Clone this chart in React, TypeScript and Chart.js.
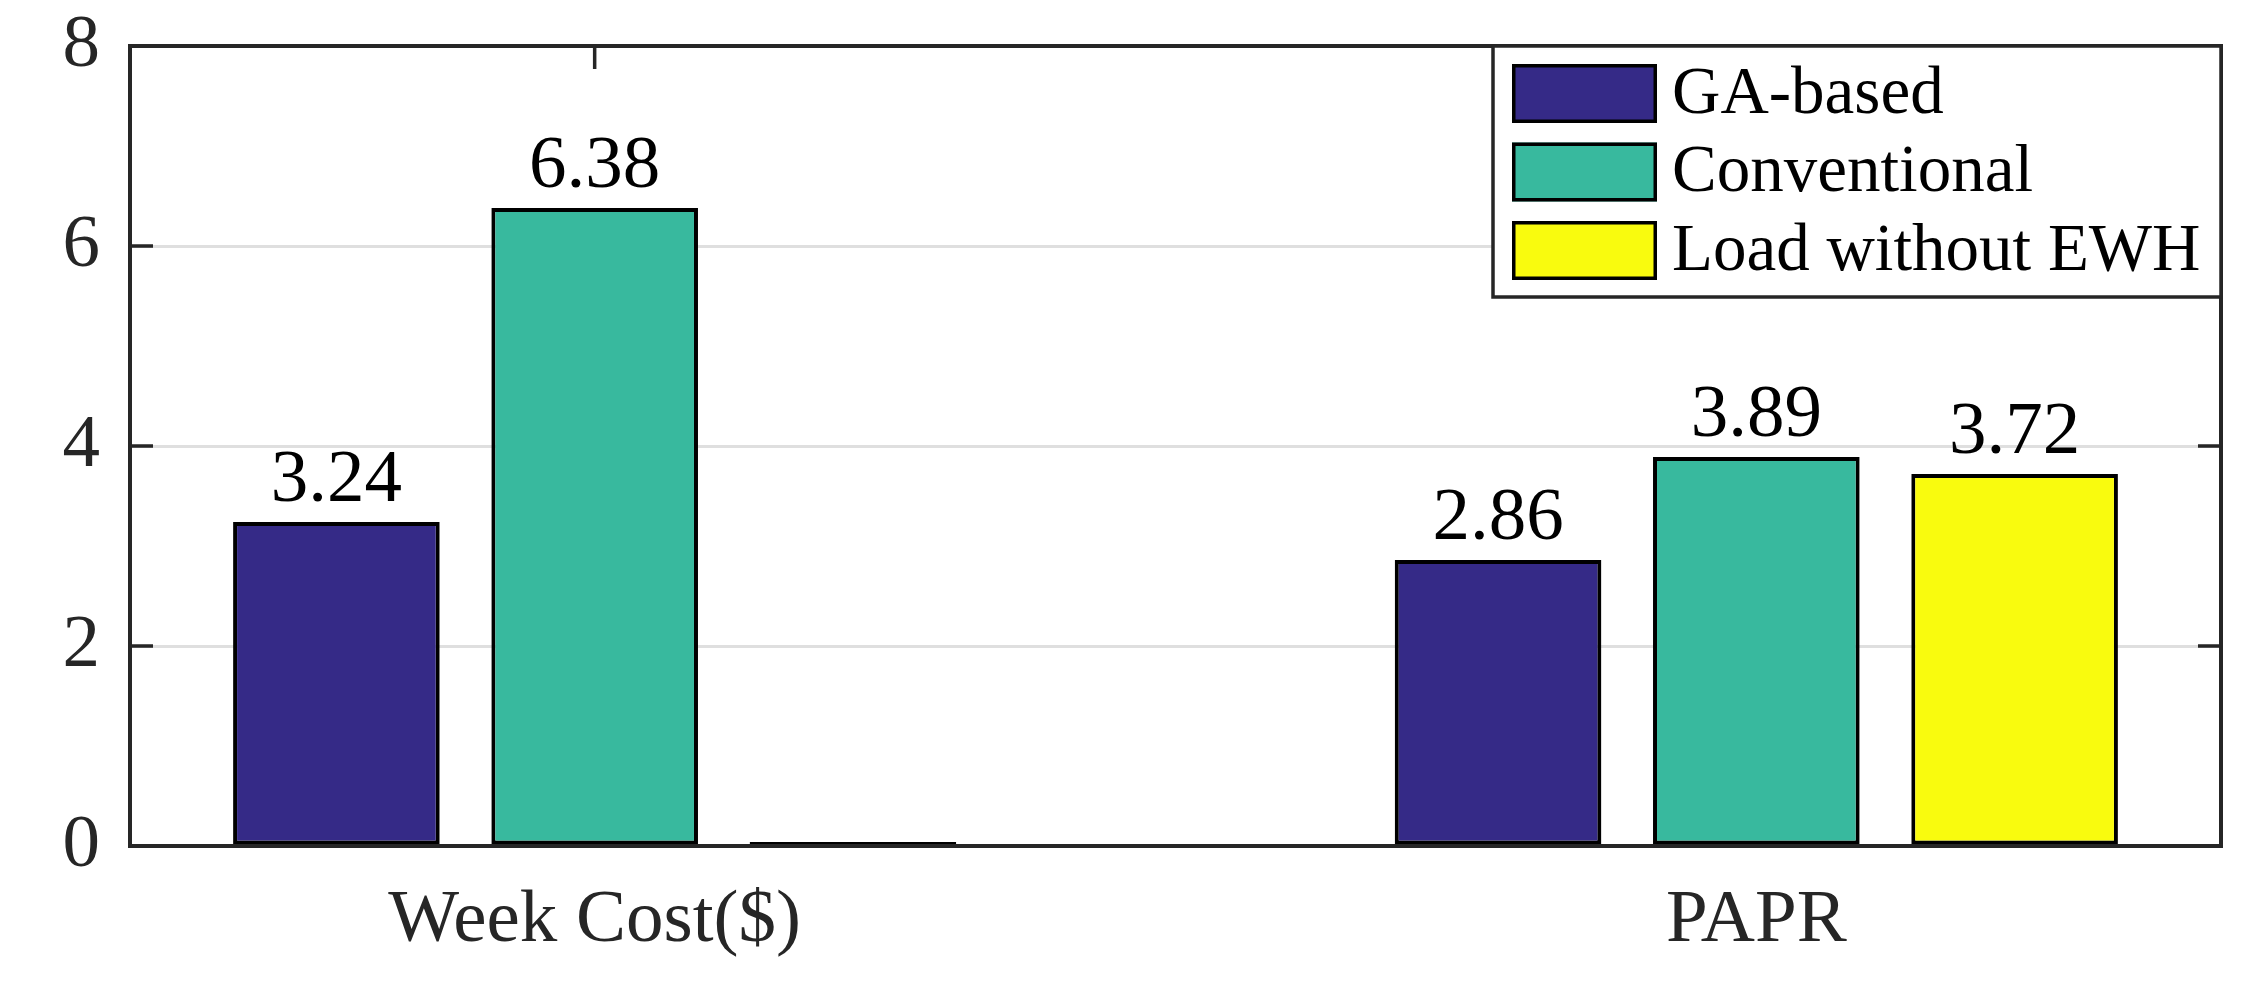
import React, { useEffect, useRef } from "react";
import { Chart, registerables } from "chart.js";

Chart.register(...registerables);

const categories = ["Week Cost($)", "PAPR"];
const seriesNames = ["GA-based", "Conventional", "Load without EWH"];
const gaBased = [3.24, 2.86];
const conventional = [6.38, 3.89];
const loadWithoutEWH = [0, 3.72];
const seriesColors = ["#352a87", "#38b99e", "#f9fb0e"];
const yTicks = [0, 2, 4, 6, 8];

const FONT = '"Liberation Serif", "Times New Roman", serif';
const AXIS_COLOR = "#262626";

const frameAndTicksPlugin = {
  id: "frameAndTicks",
  beforeDatasetsDraw(chart: any) {
    const { ctx, chartArea, scales } = chart;
    const { left, right, top } = chartArea;
    ctx.save();
    ctx.strokeStyle = AXIS_COLOR;
    ctx.lineWidth = 3.5;
    ctx.beginPath();
    yTicks.forEach((v) => {
      if (v === scales.y.min || v === scales.y.max) return;
      const y = scales.y.getPixelForValue(v);
      ctx.moveTo(left, y);
      ctx.lineTo(left + 23, y);
      ctx.moveTo(right, y);
      ctx.lineTo(right - 23, y);
    });
    categories.forEach((_, i) => {
      const x = scales.x.getPixelForValue(i + 1);
      ctx.moveTo(x, top);
      ctx.lineTo(x, top + 23);
    });
    ctx.stroke();
    ctx.restore();
  },
  afterDatasetsDraw(chart: any) {
    const { ctx, chartArea } = chart;
    const { left, right, top, bottom } = chartArea;
    ctx.save();
    ctx.strokeStyle = AXIS_COLOR;
    ctx.lineWidth = 4;
    ctx.strokeRect(left, top, right - left, bottom - top);
    ctx.restore();

    // value labels
    ctx.save();
    ctx.fillStyle = "#000";
    ctx.font = `75px ${FONT}`;
    ctx.textAlign = "center";
    ctx.textBaseline = "alphabetic";
    chart.data.datasets.forEach((ds: any, di: number) => {
      const meta = chart.getDatasetMeta(di);
      meta.data.forEach((el: any, i: number) => {
        const v = ds.data[i].y;
        if (!v) return;
        ctx.fillText(v.toFixed(2), el.x, el.y - 21);
      });
    });
    ctx.restore();
  },
};

const boxLegendPlugin = {
  id: "boxLegend",
  afterDraw(chart: any) {
    const { ctx, chartArea } = chart;
    const w = 728;
    const h = 251;
    const x0 = chartArea.right - w;
    const y0 = chartArea.top;
    ctx.save();
    ctx.fillStyle = "#fff";
    ctx.fillRect(x0, y0, w, h);
    ctx.strokeStyle = AXIS_COLOR;
    ctx.lineWidth = 3.5;
    ctx.strokeRect(x0, y0, w, h);
    ctx.font = `67px ${FONT}`;
    ctx.textAlign = "left";
    ctx.textBaseline = "middle";
    chart.data.datasets.forEach((ds: any, i: number) => {
      const sy = y0 + 18 + i * 78.5;
      const sx = x0 + 19;
      ctx.fillStyle = ds.backgroundColor;
      ctx.fillRect(sx, sy, 145, 59);
      ctx.strokeStyle = "#000";
      ctx.lineWidth = 3.5;
      ctx.strokeRect(sx + 1.75, sy + 1.75, 145 - 3.5, 59 - 3.5);
      ctx.fillStyle = "#000";
      ctx.fillText(ds.label, sx + 160, sy + 31);
    });
    ctx.restore();
  },
};

export default function App() {
  const canvasRef = useRef<HTMLCanvasElement | null>(null);

  useEffect(() => {
    if (!canvasRef.current) return;
    const seriesValues = [gaBased, conventional, loadWithoutEWH];
    const chart = new Chart(canvasRef.current, {
      type: "bar",
      data: {
        datasets: seriesNames.map((name, si) => ({
          label: name,
          data: seriesValues[si].map((v, i) => ({ x: i + 1, y: v })),
          backgroundColor: seriesColors[si],
          borderColor: "#000",
          borderWidth: 4,
          borderSkipped: false,
          minBarLength: 4,
          categoryPercentage: 0.667,
          barPercentage: 0.8,
        })),
      },
      options: {
        responsive: false,
        animation: false,
        events: [],
        layout: { padding: { left: 0, right: 42, top: 46, bottom: 0 } },
        plugins: {
          legend: { display: false },
          tooltip: { enabled: false },
        },
        scales: {
          x: {
            type: "linear",
            min: 0.6,
            max: 2.4,
            offset: false,
            grid: { display: false, drawTicks: false },
            border: { display: false },
            afterBuildTicks: (scale: any) => {
              scale.ticks = categories.map((_, i) => ({ value: i + 1 }));
            },
            afterFit: (scale: any) => {
              scale.height = 135;
              scale.paddingLeft = 0;
              scale.paddingRight = 0;
            },
            ticks: {
              autoSkip: false,
              maxRotation: 0,
              padding: 30,
              color: AXIS_COLOR,
              font: { family: FONT, size: 75 },
              callback: (v: any) => categories[Math.round(Number(v)) - 1] ?? "",
            },
          },
          y: {
            min: 0,
            max: 8,
            afterBuildTicks: (scale: any) => {
              scale.ticks = yTicks.map((v) => ({ value: v }));
            },
            afterFit: (scale: any) => {
              scale.width = 130;
              scale.paddingTop = 0;
              scale.paddingBottom = 0;
            },
            grid: {
              drawTicks: false,
              lineWidth: 3,
              color: (c: any) =>
                c.tick && (c.tick.value === 0 || c.tick.value === 8)
                  ? "rgba(0,0,0,0)"
                  : "#dfdfdf",
            },
            border: { display: false },
            ticks: {
              padding: 30,
              color: AXIS_COLOR,
              font: { family: FONT, size: 75 },
            },
          },
        },
      },
      plugins: [frameAndTicksPlugin, boxLegendPlugin],
    } as any);
    return () => chart.destroy();
  }, []);

  return (
    <div style={{ position: "absolute", left: 0, top: 0, width: 2263, height: 981, background: "#fff" }}>
      <canvas ref={canvasRef} width={2263} height={981} style={{ display: "block" }} />
    </div>
  );
}
